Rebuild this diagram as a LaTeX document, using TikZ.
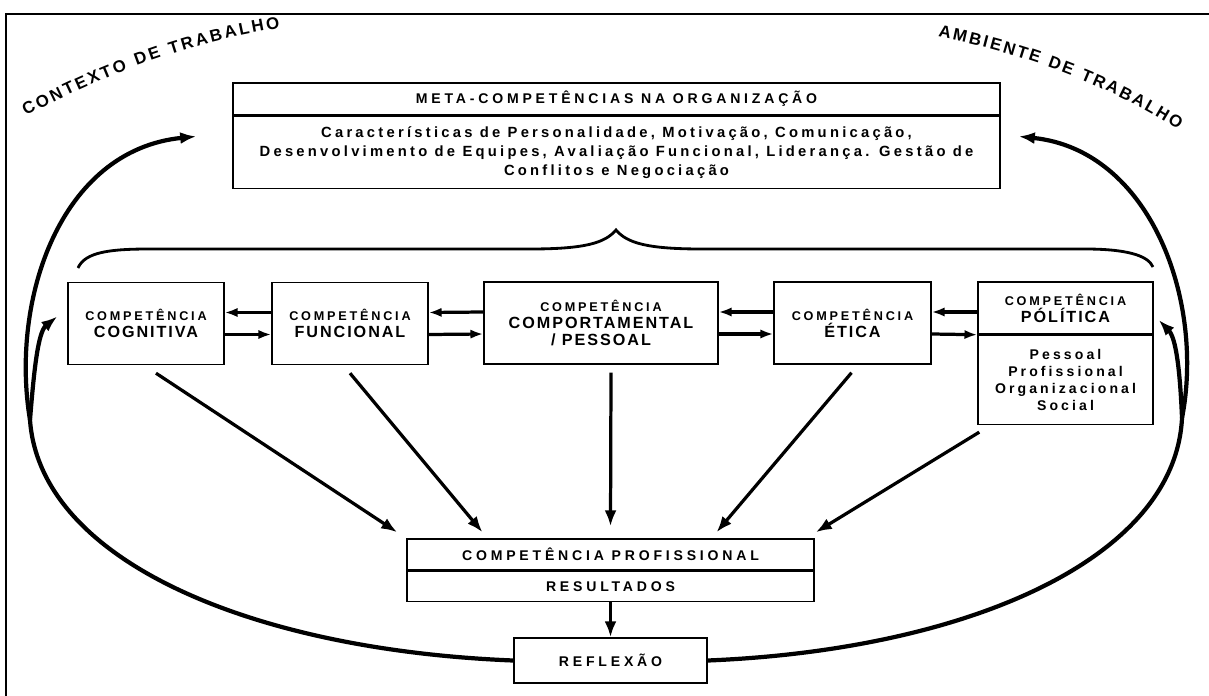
\documentclass[tikz,border=0pt]{standalone}
\usepackage{fontspec}
\setmainfont{Liberation Sans}
\newfontfamily\boxfont{Liberation Sans}[LetterSpace=12]
\newfontfamily\labelfont{Liberation Sans}[LetterSpace=22]
\newfontfamily\widefont{Liberation Sans}[LetterSpace=27]
\usetikzlibrary{arrows.meta,positioning,calc,decorations.text}
\newcommand{\smallline}[1]{{\labelfont\bfseries\fontsize{9}{12}\selectfont #1}}

\begin{document}
\begin{tikzpicture}[
  x=0.025cm, y=-0.025cm,
  cbox/.style={draw, line width=1pt, align=center, inner sep=0pt, minimum width=3.9cm, minimum height=2.05cm, font=\boxfont\bfseries\fontsize{11.5}{12}\selectfont},
  cell/.style={draw, line width=1pt, align=center, inner sep=0pt, font=\widefont\bfseries\fontsize{10}{12}\selectfont},
  flow/.style={-{Latex[length=3.2mm,width=2.3mm]}, line width=2.3pt},
  drop/.style={-{Latex[length=4mm,width=3mm]}, line width=2.3pt},
  feedback/.style={-{Latex[length=4mm,width=3mm]}, line width=3pt},
  brace/.style={line width=2pt},
  arclabel/.style={decorate, decoration={text along path, text align=fit to path, text={|\bfseries\fontsize{12}{14}\selectfont|#1}}}
]
\useasboundingbox (0,0) rectangle (1209,696);
\draw[line width=1.4pt] (6,700) -- (6,14) -- (1212,14);

\node[cell, minimum width=19.175cm, minimum height=0.8cm] (metatitle) at (616.5,99) {META-COMPETÊNCIAS NA ORGANIZAÇÃO};
\node[cell, below=0pt of metatitle, minimum width=19.175cm, minimum height=1.8cm, font=\labelfont\bfseries\fontsize{10.5}{13.5}\selectfont] (metabody) {Características de Personalidade, Motivação, Comunicação,\\Desenvolvimento de Equipes, Avaliação Funcional, Liderança. Gestão de\\Conflitos e Negociação};

\node[cbox] (cog) at (146,323.5) {\smallline{COMPETÊNCIA}\\COGNITIVA};
\node[cbox] (fun) at (350,323.5) {\smallline{COMPETÊNCIA}\\FUNCIONAL};
\node[cbox, minimum width=5.85cm] (comp) at (601,323) {\smallline{COMPETÊNCIA}\\COMPORTAMENTAL\\/ PESSOAL};
\node[cbox, minimum width=3.925cm] (eti) at (852.5,323) {\smallline{COMPETÊNCIA}\\ÉTICA};
\node[cbox, minimum width=4.375cm, minimum height=1.3cm] (poltop) at (1065.5,308) {\smallline{COMPETÊNCIA}\\PÓLÍTICA};
\node[cbox, below=0pt of poltop, minimum width=4.375cm, minimum height=2.225cm, font=\labelfont\bfseries\fontsize{10}{12}\selectfont] (polbody) {Pessoal\\Profissional\\Organizacional\\Social};

\node[cell, minimum width=10.175cm, minimum height=0.775cm] (proftop) at (610.5,554.5) {COMPETÊNCIA PROFISSIONAL};
\node[cell, below=0pt of proftop, minimum width=10.175cm, minimum height=0.75cm] (profbot) {RESULTADOS};
\node[cell, minimum width=4.825cm, minimum height=1.125cm] (refl) at (610.5,660.5) {REFLEXÃO};

\foreach \a/\b in {cog/fun, fun/comp, comp/eti} {
  \draw[flow] ($(\b.west)+(0,-11)$) -- ($(\a.east)+(0,-11)$);
  \draw[flow] ($(\a.east)+(0,11)$) -- ($(\b.west)+(0,11)$);
}
\draw[flow] ($(poltop.west)+(0,4)$) -- ($(eti.east)+(0,-11)$);
\draw[flow] ($(eti.east)+(0,11)$) -- (poltop.south west);

\draw[drop] ($(cog.south)+(10,8)$) -- ($(proftop.north west)+(-9,-6)$);
\draw[drop] ($(fun.south)+(0,8)$) -- ($(proftop.north)+(-128,-6)$);
\draw[drop] ($(comp.south)+(10,8)$) -- ($(proftop.north)+(0,-12)$);
\draw[drop] ($(eti.south)+(-1,8)$) -- ($(proftop.north)+(106,-6)$);
\draw[drop] ($(polbody.south west)+(2,7)$) -- ($(proftop.north east)+(1,-6)$);
\draw[drop] (profbot.south) -- (refl.north);

\coordinate (jl) at (30,420);
\coordinate (jr) at (1182,418);
\draw[feedback] (refl.west) .. controls (250,650) and (40,560) .. (jl) .. controls (10,300) and (60,150) .. ($(metabody.west)+(-36,-16)$);
\draw[feedback] (jl) .. controls (34,370) and (38,332) .. ($(cog.west)+(-10,-7)$);
\draw[feedback] (refl.east) .. controls (965,650) and (1175,560) .. (jr) .. controls (1205,300) and (1150,150) .. ($(metabody.east)+(18,-16)$);
\draw[feedback] (jr) .. controls (1180,370) and (1176,338) .. ($(poltop.east)+(5,12)$);

\draw[brace] (78,268) .. controls (85,252) and (110,249) .. (150,249) -- (530,249) .. controls (585,249) and (605,243) .. (616,230) .. controls (627,243) and (647,249) .. (702,249) -- (1085,249) .. controls (1125,249) and (1148,255) .. (1153,267);

\path[arclabel=CONTEXTO DE TRABALHO] (26,116) .. controls (110,72) and (190,42) .. (280,28);
\path[arclabel=AMBIENTE DE TRABALHO] (938,37) .. controls (1010,50) and (1105,82) .. (1178,130);
\end{tikzpicture}
\end{document}
